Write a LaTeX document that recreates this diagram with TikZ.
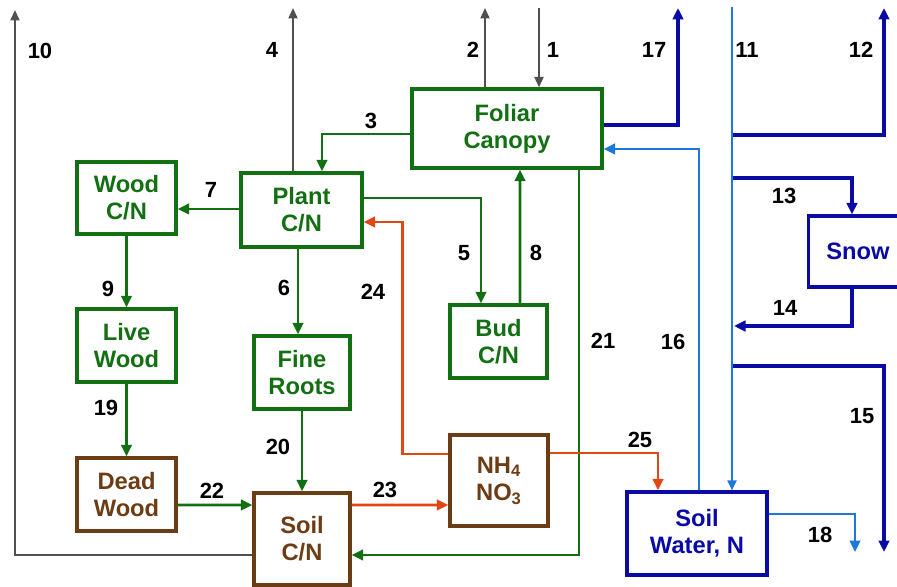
\documentclass[tikz,border=0pt]{standalone}
\usepackage{fontspec}
\setmainfont{Liberation Sans}
\usetikzlibrary{arrows.meta, calc}
\definecolor{leafgreen}{RGB}{18,112,18}
\definecolor{soilbrown}{RGB}{108,60,20}
\definecolor{deepblue}{RGB}{10,10,165}
\definecolor{skyblue}{RGB}{30,120,220}
\definecolor{fluxred}{RGB}{225,70,20}
\definecolor{fluxgray}{RGB}{80,80,80}

\begin{document}
\begin{tikzpicture}[
    x=0.02cm, y=-0.02cm,
    box/.style={rectangle, draw, line width=1.8pt, align=center, inner sep=0pt, font=\fontsize{13.5}{15.5}\selectfont\bfseries},
    gbox/.style={box, draw=leafgreen, text=leafgreen},
    bbox/.style={box, draw=soilbrown, text=soilbrown},
    wbox/.style={box, draw=deepblue, text=deepblue},
    arr/.style={-{Triangle[length=2.3mm, width=2.1mm]}, line width=1.5pt},
    garr/.style={arr, leafgreen},
    rarr/.style={arr, fluxred},
    darr/.style={arr, deepblue, line width=1.8pt},
    larr/.style={arr, skyblue},
    gyarr/.style={-{Triangle[length=2.1mm, width=1.8mm]}, line width=1.2pt, fluxgray},
    num/.style={font=\fontsize{12.5}{14}\selectfont\bfseries}
]
\clip (0,0) rectangle (897,587);

% pools
\node[gbox, minimum width=3.8cm, minimum height=1.58cm] (canopy) at (507,128.5) {Foliar\\Canopy};
\node[gbox, minimum width=2.42cm, minimum height=1.48cm] (plant) at (301.5,210) {Plant\\C/N};
\node[gbox, minimum width=1.98cm, minimum height=1.44cm] (wood) at (126.5,198) {Wood\\C/N};
\node[gbox, minimum width=1.98cm, minimum height=1.46cm] (live) at (126.5,345.5) {Live\\Wood};
\node[bbox, minimum width=1.98cm, minimum height=1.46cm] (dead) at (126.5,494.5) {Dead\\Wood};
\node[gbox, minimum width=1.92cm, minimum height=1.46cm] (roots) at (302,372.5) {Fine\\Roots};
\node[bbox, minimum width=1.92cm, minimum height=1.84cm] (soil) at (302,539) {Soil\\C/N};
\node[gbox, minimum width=1.94cm, minimum height=1.46cm] (bud) at (498.5,341.5) {Bud\\C/N};
\node[bbox, minimum width=1.96cm, minimum height=1.82cm] (nh) at (499,480.5) {NH\textsubscript{4}\\NO\textsubscript{3}};
\node[wbox, minimum width=2.8cm, minimum height=1.66cm] (water) at (697,533.5) {Soil\\Water, N};
\node[wbox, minimum width=1.98cm, minimum height=1.42cm] (snow) at (858,251.5) {Snow};

% free ends and junctions
\coordinate (top10) at (15,10);
\coordinate (top4) at (293,8);
\coordinate (top2) at (485,8);
\coordinate (top1) at (539,8);
\coordinate (top17) at (678,8);
\coordinate (top11) at (732,7);
\coordinate (top12) at (884,8);
\coordinate (j12) at (732,135);
\coordinate (j13) at (732,178);
\coordinate (j14) at (734,326);
\coordinate (j15) at (732,366);
\coordinate (bot15) at (884,552);
\coordinate (bot18) at (855,552);

% fluxes
\draw[gyarr] ($(soil.west)+(0,16)$) -| (top10);
\draw[gyarr] (top4 |- plant.north) -- (top4);
\draw[gyarr] (top2 |- canopy.north) -- (top2);
\draw[gyarr] (top1) -- (top1 |- canopy.north);
\draw[garr] ($(canopy.west)+(0,5.5)$) -| ($(plant.north)+(20.5,0)$);
\draw[garr] ($(plant.east)+(0,-12)$) -| ($(bud.north)+(-17.5,0)$);
\draw[garr] ($(plant.south)+(-3.5,0)$) -- ($(roots.north)+(-4,0)$);
\draw[garr] ($(plant.west)+(0,-1)$) -- ($(wood.east)+(0,11)$);
\draw[garr] ($(bud.north)+(21.5,0)$) -- ($(canopy.south)+(13,0)$);
\draw[garr] (wood.south) -- (live.north);
\draw[darr] (j12) -| (top12);
\draw[darr] (j13) -| ($(snow.north)+(-6,0)$);
\draw[darr] ($(snow.south)+(-6,0)$) |- (j14);
\draw[darr] (j15) -| (bot15);
\draw[larr] ($(water.north)+(2,0)$) |- ($(canopy.east)+(0,20.5)$);
\draw[darr] ($(canopy.east)+(0,-3.5)$) -| (top17);
\draw[larr] ($(water.east)+(0,-19.5)$) -| (bot18);
\draw[garr] (live.south) -- (dead.north);
\draw[garr] (roots.south) -- (soil.north);
\draw[garr] ($(canopy.south)+(72,0)$) |- ($(soil.east)+(0,16)$);
\draw[garr] ($(dead.east)+(0,10.5)$) -- ($(soil.west)+(0,-34)$);
\draw[rarr] ($(soil.east)+(0,-34)$) -- ($(nh.west)+(0,24.5)$);
\draw[rarr] ($(nh.west)+(0,-26.5)$) -- ++(-46,0) |- ($(plant.east)+(0,12)$);
\draw[rarr] ($(nh.east)+(0,-27.5)$) -| ($(water.north)+(-39,0)$);
\draw[-{Triangle[length=2mm, width=1.8mm]}, line width=1.1pt, skyblue] (top11) -- (top11 |- water.north);

% flux numbers
\node[num] (l1) at (553,50) {1};
\node[num] (l2) at (473,50) {2};
\node[num] (l3) at (371,121) {3};
\node[num] (l4) at (272,50) {4};
\node[num] (l5) at (464,253) {5};
\node[num] (l6) at (284,288) {6};
\node[num] (l7) at (211,190) {7};
\node[num] (l8) at (536,253) {8};
\node[num] (l9) at (108,289) {9};
\node[num] (l10) at (40,51) {10};
\node[num] (l11) at (747,50) {11};
\node[num] (l12) at (861,50) {12};
\node[num] (l13) at (784,196) {13};
\node[num] (l14) at (785,308) {14};
\node[num] (l15) at (862,416) {15};
\node[num] (l16) at (673,342) {16};
\node[num] (l17) at (654,50) {17};
\node[num] (l18) at (820,535) {18};
\node[num] (l19) at (106,408) {19};
\node[num] (l20) at (278,447) {20};
\node[num] (l21) at (603,341) {21};
\node[num] (l22) at (212,491) {22};
\node[num] (l23) at (385,490) {23};
\node[num] (l24) at (373,292) {24};
\node[num] (l25) at (640,440) {25};
\end{tikzpicture}
\end{document}
